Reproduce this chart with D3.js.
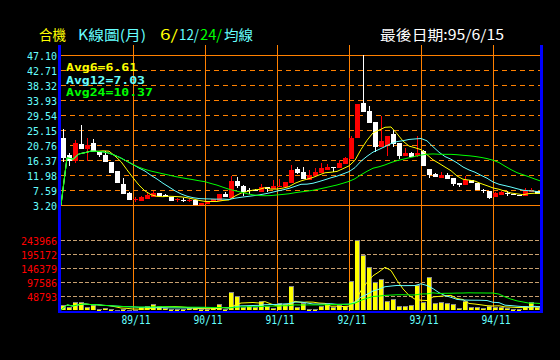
<!DOCTYPE html>
<html lang="zh-Hant">
<head>
<meta charset="UTF-8">
<script src="https://cdn.jsdelivr.net/npm/d3@7/dist/d3.min.js"></script>
<title>合機 K線圖(月)</title>
<style>
  * { margin: 0; padding: 0; }
  body { background: #000; width: 560px; height: 360px; overflow: hidden; }
  svg { display: block; }
</style>
</head>
<body>
<svg id="chart" width="560" height="360"></svg>
<script>
// monthly bars from 88/11 to 95/6
var months = [];
for (var i = 0; i < 80; i++) {
  var m = 10 + i;
  months.push((88 + Math.floor(m / 12)) + '/' + (m % 12 + 1));
}

var open = [22.72,17.75,16.17,21.05,19.59,21.35,18.80,17.83,15.78,13.15,
  9.35,6.62,4.85,4.46,4.96,5.63,6.71,6.21,5.63,4.80,
  4.65,4.55,4.66,3.20,3.50,4.28,4.37,6.42,5.34,10.22,
  8.76,7.65,7.60,7.15,8.40,7.80,8.40,8.56,9.55,13.64,
  12.95,10.52,11.69,12.65,13.44,14.22,14.12,15.20,16.57,22.90,
  33.14,30.71,27.58,20.17,20.76,23.98,21.43,17.54,18.51,17.54,
  19.00,13.74,12.36,11.19,12.07,11.19,9.73,8.97,10.43,9.73,
  7.50,7.30,5.63,6.13,6.80,6.42,6.04,5.92,6.92,7.30];

var high = [25.35,18.33,22.22,26.61,22.90,22.52,18.80,19.00,15.78,13.15,
  11.01,7.00,5.45,5.92,6.62,7.39,6.71,6.51,5.63,5.34,
  5.16,5.00,4.66,3.70,4.40,4.90,6.42,6.91,11.69,11.40,
  9.14,8.26,7.90,9.35,8.40,10.52,10.81,10.02,14.90,14.40,
  14.40,13.44,13.90,15.40,15.11,14.30,16.37,17.34,23.39,32.76,
  47.10,32.17,27.58,29.34,23.48,25.15,21.43,19.97,18.80,23.39,
  19.30,13.74,12.65,12.95,12.48,11.19,9.73,11.69,10.43,9.73,
  7.98,7.30,7.09,7.20,7.39,6.42,6.04,8.26,8.09,7.30];

var low = [15.70,14.70,15.40,19.59,16.17,18.62,17.16,15.70,12.65,9.73,
  6.42,4.66,4.08,4.46,4.96,5.63,5.83,5.45,4.46,4.08,
  4.00,4.20,3.30,3.20,3.40,4.28,4.37,5.45,5.34,8.09,
  5.92,6.33,7.30,7.15,6.90,7.80,8.40,8.56,9.55,12.27,
  10.81,10.52,11.69,12.65,13.44,12.95,14.12,15.20,16.57,22.90,
  30.51,27.29,18.80,20.17,17.63,20.26,16.66,17.54,17.34,17.16,
  14.70,11.01,11.31,11.19,10.90,8.85,8.56,8.97,9.55,7.59,
  6.80,4.96,5.63,6.13,5.92,6.04,5.70,5.92,6.92,6.33];

var close = [17.04,16.17,21.26,19.59,20.76,18.62,17.83,15.70,12.65,9.73,
  6.42,4.66,4.90,5.45,6.13,6.80,5.83,5.45,4.46,4.87,
  4.58,4.62,3.30,3.70,4.30,4.87,6.42,5.45,10.22,8.76,
  7.10,7.50,7.50,8.47,7.80,8.85,8.75,10.02,13.44,12.65,
  10.81,11.98,12.95,13.94,14.41,14.12,15.58,16.87,22.90,32.76,
  30.51,27.29,20.26,21.93,23.48,20.96,17.54,18.51,17.34,18.51,
  14.70,11.98,11.31,11.98,10.90,9.26,8.97,10.52,9.55,7.59,
  7.21,5.34,6.62,7.09,6.42,6.10,5.70,7.30,7.30,6.45];

var volume = [17400,10500,27900,27900,10500,16000,3500,7000,3500,1000,
  3500,1500,1500,10500,15000,21000,15000,7000,3500,3500,
  3500,7000,7000,3500,3500,7000,21000,3500,63000,48000,
  9000,12500,10500,32400,15000,7000,23000,21000,83600,9000,
  23000,4500,4500,14000,23000,10500,16000,12500,99700,245000,
  192700,149900,97600,108000,32400,39400,14000,14000,17400,87000,
  26500,115000,24400,27900,24400,21000,7000,32400,11500,11500,
  7000,14000,11500,9000,7000,4500,4500,14000,26500,9000];

var priceTicks = ['47.10','42.71','38.32','33.93','29.54','25.15','20.76','16.37','11.98','7.59','3.20'];
var volumeTicks = ['243966','195172','146379','97586','48793'];
var monthTicks = ['89/11','90/11','91/11','92/11','93/11','94/11'];

var maPeriods = [6, 12, 24];
var maColors = ['#ffff00', '#66ffff', '#00ff00'];
var legendValues = ['6.61', '7.03', '10.37'];

var svg = d3.select('#chart');
svg.append('rect').attr('width', 560).attr('height', 360).attr('fill', '#000');

var x = d3.scaleBand()
  .domain(months)
  .range([61, 540])
  .paddingInner(1 / 6)
  .paddingOuter(0)
  .align(0);

var yPrice = d3.scaleLinear()
  .domain([+priceTicks[priceTicks.length - 1], +priceTicks[0]])
  .range([205, 55])
  .clamp(true);

var volMax = +volumeTicks[0] * 6 / 5;
var yVol = d3.scaleLinear()
  .domain([0, volMax])
  .range([310, 226])
  .clamp(true);

function movingAvg(values, n) {
  return values.map(function (v, i) {
    return d3.mean(values.slice(Math.max(0, i - n + 1), i + 1));
  });
}

var orange = '#ff8000';

// grid
var grid = svg.append('g').attr('shape-rendering', 'crispEdges');

grid.selectAll('.pgrid')
  .data(priceTicks)
  .enter().append('line')
  .attr('x1', 61).attr('x2', 540)
  .attr('y1', function (d) { return Math.round(yPrice(+d)) + 0.5; })
  .attr('y2', function (d) { return Math.round(yPrice(+d)) + 0.5; })
  .attr('stroke', orange)
  .attr('stroke-width', 1)
  .attr('stroke-dasharray', function (d, i) {
    return (i === 0 || i === priceTicks.length - 1) ? '480,0' : '5,4';
  });

grid.selectAll('.vgrid')
  .data(volumeTicks)
  .enter().append('line')
  .attr('x1', 61).attr('x2', 540)
  .attr('y1', function (d) { return Math.round(yVol(+d)) + 0.5; })
  .attr('y2', function (d) { return Math.round(yVol(+d)) + 0.5; })
  .attr('stroke', '#c8a070')
  .attr('stroke-dasharray', '4,2');

grid.selectAll('.xgrid')
  .data(monthTicks)
  .enter().append('rect')
  .attr('x', function (d) { return Math.round(x(d)); })
  .attr('y', 45)
  .attr('width', 1)
  .attr('height', 266)
  .attr('fill', orange);

// volume bars
var bw = x.bandwidth();
var vol = svg.append('g').attr('shape-rendering', 'crispEdges');
volume.forEach(function (v, i) {
  var top = Math.round(yVol(v));
  var h = 310 - top;
  if (h < 1) h = 1;
  var x0 = Math.round(x(months[i]));
  vol.append('rect')
    .attr('x', x0).attr('y', top)
    .attr('width', 5).attr('height', h)
    .attr('fill', '#888888');
  vol.append('rect')
    .attr('x', x0).attr('y', top + 1)
    .attr('width', 4).attr('height', Math.max(h - 1, 1))
    .attr('fill', '#ffff00');
});

function maPath(values, scale) {
  var pts = [[x(months[0]), scale(0)]];
  values.forEach(function (v, i) {
    pts.push([x(months[i]) + x.step(), scale(v)]);
  });
  return d3.line()(pts);
}

maPeriods.forEach(function (n, k) {
  svg.append('path')
    .attr('d', maPath(movingAvg(volume, n), yVol))
    .attr('fill', 'none')
    .attr('stroke', maColors[k])
    .attr('stroke-width', 1);
});

// candles
var candles = svg.append('g').attr('shape-rendering', 'crispEdges');
close.forEach(function (c, i) {
  var o = open[i];
  var col = c > o ? '#ff0000' : '#ffffff';
  var x0 = Math.round(x(months[i]));
  var hiY = Math.round(yPrice(high[i]));
  var loY = Math.round(yPrice(low[i]));
  candles.append('rect')
    .attr('x', x0 + 2)
    .attr('y', hiY)
    .attr('width', 1)
    .attr('height', Math.max(loY - hiY, 1))
    .attr('fill', col);
  var t = Math.round(yPrice(Math.max(o, c)));
  var b = Math.round(yPrice(Math.min(o, c)));
  candles.append('rect')
    .attr('x', x0).attr('y', t)
    .attr('width', 5)
    .attr('height', Math.max(b - t, 1))
    .attr('fill', col);
});

maPeriods.forEach(function (n, k) {
  svg.append('path')
    .attr('d', maPath(movingAvg(close, n), yPrice))
    .attr('fill', 'none')
    .attr('stroke', maColors[k])
    .attr('stroke-width', 1);
});

// frame
svg.append('rect').attr('x', 58).attr('y', 45).attr('width', 3).attr('height', 268).attr('fill', '#0000ff');
svg.append('rect').attr('x', 540).attr('y', 45).attr('width', 3).attr('height', 268).attr('fill', '#0000ff');
svg.append('rect').attr('x', 58).attr('y', 311).attr('width', 485).attr('height', 2).attr('fill', '#0000ff');

// axis labels
var mono = 'DejaVu Sans Mono, monospace';
svg.selectAll('.plabel')
  .data(priceTicks)
  .enter().append('text')
  .attr('x', 57)
  .attr('y', function (d) { return yPrice(+d) + 5; })
  .attr('text-anchor', 'end')
  .attr('font-family', mono)
  .attr('font-size', 10)
  .attr('fill', '#66ffff')
  .text(function (d) { return d; });

svg.selectAll('.vlabel')
  .data(volumeTicks)
  .enter().append('text')
  .attr('x', 57)
  .attr('y', function (d) { return yVol(+d) + 5; })
  .attr('text-anchor', 'end')
  .attr('font-family', mono)
  .attr('font-size', 10)
  .attr('fill', '#ff0000')
  .text(function (d) { return d; });

svg.selectAll('.xlabel')
  .data(monthTicks)
  .enter().append('text')
  .attr('x', function (d) { return x(d) + x.step() / 2 - 14.5; })
  .attr('y', 324)
  .attr('font-family', mono)
  .attr('font-size', 12.5)
  .attr('textLength', 29)
  .attr('lengthAdjust', 'spacingAndGlyphs')
  .attr('fill', '#66ffff')
  .text(function (d) { return d; });

// legend
maPeriods.forEach(function (n, k) {
  var label = 'Avg' + n + '=' + legendValues[k];
  svg.append('text')
    .attr('x', 66)
    .attr('y', 71 + k * 12.6)
    .attr('font-family', mono)
    .attr('font-weight', 'bold')
    .attr('font-size', 10.8)
    .attr('textLength', label.length * 7.9)
    .attr('lengthAdjust', 'spacingAndGlyphs')
    .attr('fill', maColors[k])
    .text(label);
});

// title
var cjk = 'Noto Sans CJK TC, sans-serif';
var title = [
  { t: '合機', x: 39, w: 27, c: '#ffff00' },
  { t: 'K線圖(月)', x: 78, w: 68, c: '#66ffff' },
  { t: '6/', x: 160, w: 18, c: '#ffff00' },
  { t: '12/', x: 179, w: 20, c: '#66ffff' },
  { t: '24/', x: 200, w: 22, c: '#00ff00' },
  { t: '均線', x: 224, w: 29, c: '#66ffff' },
  { t: '最後日期:95/6/15', x: 380, w: 124, c: '#ffffff' }
];
svg.selectAll('.title')
  .data(title)
  .enter().append('text')
  .attr('x', function (d) { return d.x; })
  .attr('y', 40)
  .attr('font-family', cjk)
  .attr('font-size', 14)
  .attr('textLength', function (d) { return d.w; })
  .attr('lengthAdjust', 'spacingAndGlyphs')
  .attr('fill', function (d) { return d.c; })
  .text(function (d) { return d.t; });
</script>
</body>
</html>
